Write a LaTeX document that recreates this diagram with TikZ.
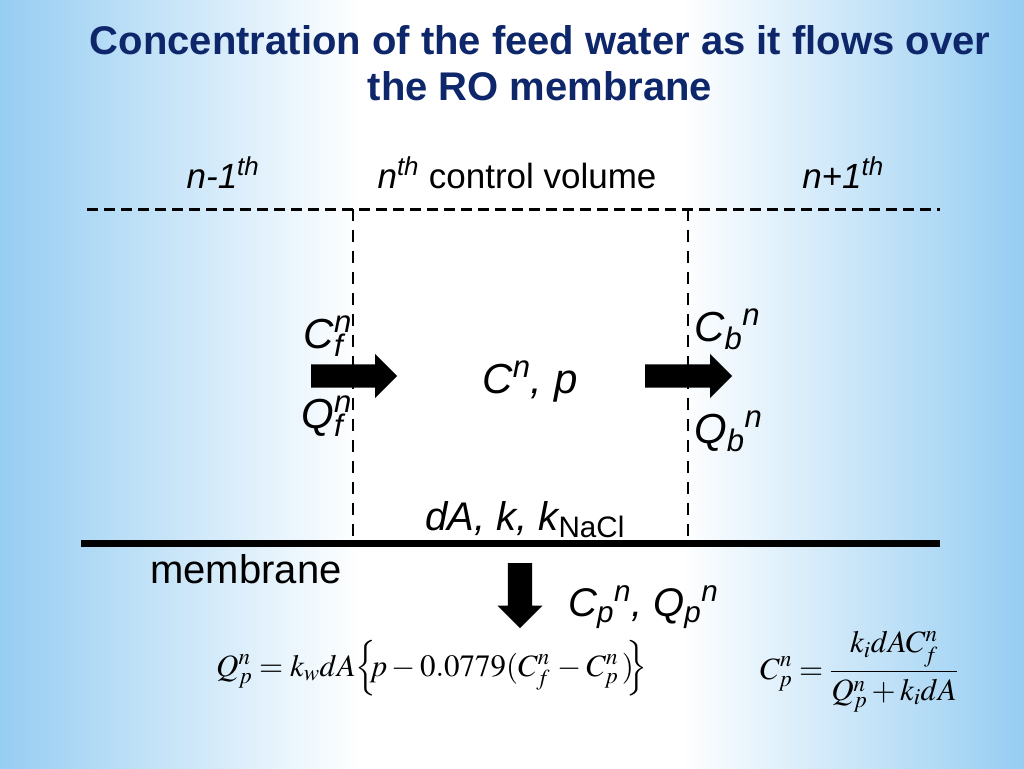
\documentclass[tikz,border=0pt]{standalone}
\usepackage{mathptmx}
\usepackage[no-math]{fontspec}
\setmainfont{Liberation Sans}
\usepackage{tikz}
\usetikzlibrary{positioning,shapes.arrows,calc}
\definecolor{titleblue}{RGB}{14,38,106}
\definecolor{skyblue}{RGB}{150,205,242}
\newcommand{\stk}[2]{\rlap{\textsubscript{#1}}\textsuperscript{#2}}
\newcommand{\seq}[2]{\textsubscript{#1}\textsuperscript{#2}}
\tikzstyle{headline} = [font=\fontsize{40}{46}\selectfont\bfseries, %
   text=titleblue, inner sep=0pt]
\tikzstyle{cvtext} = [font=\fontsize{35}{40}\selectfont, inner sep=0pt]
\tikzstyle{flowtext} = [font=\fontsize{42}{48}\selectfont\itshape, inner sep=0pt]
\tikzstyle{fatarrow} = [single arrow, fill=black, inner xsep=0pt, %
   single arrow head extend=10.5pt, anchor=tail]
\tikzstyle{bound} = [draw, line width=3pt, dash pattern=on 11pt off 6pt]
\tikzstyle{wall} = [draw, line width=2.6pt, dash pattern=on 12pt off 9pt]
\tikzstyle{eqn} = [font=\fontsize{31}{37}\selectfont, inner sep=0pt]

\begin{document}
\begin{tikzpicture}[x=1pt,y=-1pt]
      \useasboundingbox (0,0) rectangle (1024,768);
      % background
      \fill[white] (0,0) rectangle (1024,768);
      \shade[left color=skyblue, right color=white] (0,0) rectangle (360,768);
      \shade[left color=white, right color=skyblue] (680,0) rectangle (1024,768);

      % Place nodes
      \node[headline, anchor=base](title) at (540,55) %
         {Concentration of the feed water as it flows over};
      \node[headline, anchor=base](subtitle) at (540,100) {the RO membrane};

      \node[cvtext, anchor=base](prevcv) at (223,188) {\textit{n-1\textsuperscript{th}}};
      \node[cvtext, anchor=base](thiscv) at (517,188) %
         {\textit{n}\textsuperscript{\textit{th}} control volume};
      \node[cvtext, anchor=base](nextcv) at (843,188) {\textit{n+1\textsuperscript{th}}};

      % CONTROL VOLUME %%%%%%%%%%%%%%%%%%%%%%%%%%%%%%%%%%%%%%%%%%%%%%%
      \coordinate (topL) at (87,209);
      \coordinate (topR) at (940,209);
      \coordinate (inTop) at (353,209);
      \coordinate (inBot) at (353,540);
      \coordinate (outTop) at (688,209);
      \coordinate (outBot) at (688,540);
      \coordinate (memL) at (81,543);
      \coordinate (memR) at (940,543);

      \node[fatarrow, inner ysep=11.5pt, minimum height=86pt](feedarrow) at (311,376) {};
      \node[fatarrow, inner ysep=11.5pt, minimum height=87pt](brinearrow) at (645,376) {};
      \node[fatarrow, inner ysep=12pt, minimum height=65pt, rotate=-90](permarrow) %
         at (520,563) {};

      \node[flowtext, anchor=base east](cfeed) at (352,348) {C\stk{f}{n}};
      \node[flowtext, anchor=base east](qfeed) at (352,428) {Q\stk{f}{n}};
      \node[flowtext, anchor=base west](cbrine) at (694,341) {C\seq{b}{n}};
      \node[flowtext, anchor=base west](qbrine) at (694,443) {Q\seq{b}{n}};

      \node[flowtext, anchor=base](cvstate) at (530,393) {C\textsuperscript{n}, p};
      \node[flowtext, font=\fontsize{40}{46}\selectfont\itshape, anchor=base](memprops) %
         at (525,530) {dA, k, k\textsubscript{\upshape NaCl}};
      \node[cvtext, font=\fontsize{40}{46}\selectfont, anchor=base](memlabel) %
         at (246,583) {membrane};
      \node[flowtext, font=\fontsize{40}{46}\selectfont\itshape, anchor=base west](permlabel) %
         at (568,616) {C\seq{p}{n}, Q\seq{p}{n}};

      % PERMEATE %%%%%%%%%%%%%%%%%%%%%%%%%%%%%%%%%%%%%%%%%%%%%%%%%%%%%
      \node[eqn, anchor=base west](qpeq) at (216,676) %
         {$Q_p^n = k_w dA\mathord{\Bigl\{}\!\!p - 0.0779(C_f^n\, - C_p^n\,)\!\!\mathord{\Bigr\}}$};
      \node[eqn, anchor=west](cpeq) at (760,672) %
         {$\displaystyle C_p^n = \frac{k_i dA C_f^n}{Q_p^n + k_i dA}$};

      % Draw edges
      \path [bound] (topL) -- (topR);
      \path [wall] (inTop) -- (inBot);
      \path [wall] (outTop) -- (outBot);
      \path [draw, line width=7pt] (memL) -- (memR);
\end{tikzpicture}
\end{document}
